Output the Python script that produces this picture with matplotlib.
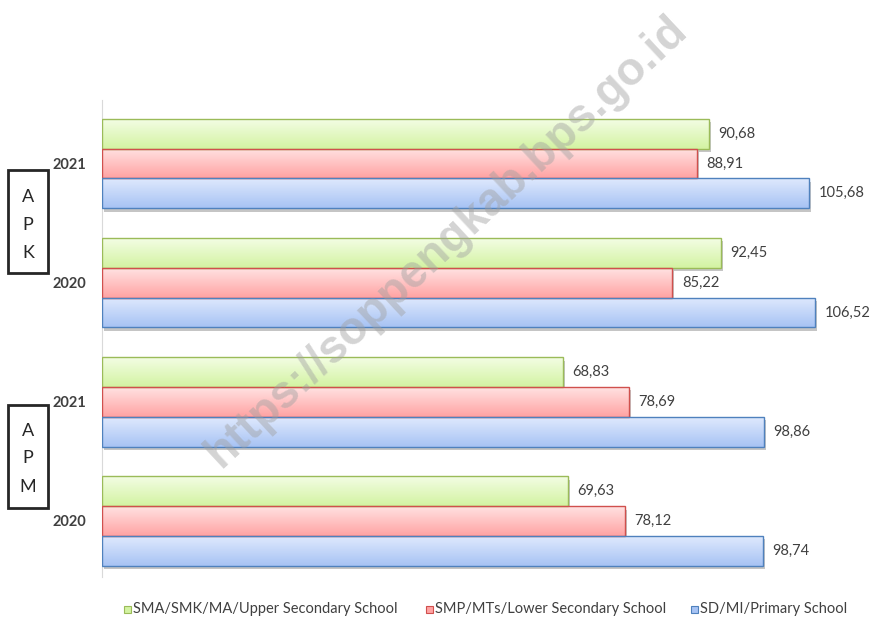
import numpy as np
import matplotlib
matplotlib.use("Agg")
import matplotlib.pyplot as plt
import matplotlib.patheffects as pe
from matplotlib.patches import Rectangle
from matplotlib.colors import LinearSegmentedColormap

plt.rcParams['font.family'] = ['Lato', 'DejaVu Sans']

# groups top to bottom
years = ['2021', '2020', '2021', '2020']
sma = [90.68, 92.45, 68.83, 69.63]
smp = [88.91, 85.22, 78.69, 78.12]
sd = [105.68, 106.52, 98.86, 98.74]
series_names = ['SMA/SMK/MA/Upper Secondary School',
                'SMP/MTs/Lower Secondary School',
                'SD/MI/Primary School']

# (top colour, bottom colour, edge colour)
styles = [('#f3fde4', '#d3f3a2', '#9bbb59'),
          ('#ffe2e2', '#ffa3a3', '#d0504d'),
          ('#dfe9fd', '#a7c3f4', '#4f81bd')]


def fmt(v):
    return ('%.2f' % v).replace('.', ',')


fig = plt.figure(figsize=(8.74, 6.21), dpi=100)
ax = fig.add_axes([102 / 874, 1 - 577 / 621, 753 / 874, 477 / 621])

bar_h = 0.25
y = np.arange(len(years))
for k, vals in enumerate([sma, smp, sd]):
    top, bot, edge = styles[k]
    ypos = y - 0.25 + k * bar_h
    cmap = LinearSegmentedColormap.from_list('g%d' % k, [top, bot])
    grad = np.linspace(0, 1, 64).reshape(-1, 1)
    base = ax.barh(ypos, vals, height=bar_h, color='white', edgecolor='none', zorder=2)
    for p in base:
        p.set_path_effects([pe.SimplePatchShadow(offset=(1.5, -2.5), shadow_rgbFace='#808080', alpha=0.45),
                            pe.Normal()])
        x0, y0 = p.get_x(), p.get_y()
        w, h = p.get_width(), p.get_height()
        im = ax.imshow(grad, cmap=cmap, aspect='auto', origin='lower',
                       extent=(x0, x0 + w, y0, y0 + h), zorder=3, interpolation='bilinear')
        im.set_clip_path(p)
    ax.barh(ypos, vals, height=bar_h, color='none', edgecolor=edge, linewidth=1.0, zorder=4)
    for yy, v in zip(ypos, vals):
        ax.text(v + 1.4, yy, fmt(v), va='center', ha='left', fontsize=10.5, color='#404040')

ax.set_xlim(0, 112.5)
ax.set_ylim(3.47, -0.533)
ax.set_yticks(y)
ax.set_yticklabels(years, fontweight='bold', fontsize=10.5, color='#404040')
ax.tick_params(axis='y', length=0, pad=11)
ax.set_xticks([])
for s in ['top', 'right', 'bottom']:
    ax.spines[s].set_visible(False)
ax.spines['left'].set_color('#d9d9d9')

# side boxes
for (y_top, y_bot, letters, ys) in [(170, 273, 'APK', [197, 225, 253]),
                                    (405, 508, 'APM', [431, 458, 487])]:
    fig.patches.append(Rectangle((8 / 874, 1 - y_bot / 621), 40 / 874, (y_bot - y_top) / 621,
                                 transform=fig.transFigure, fill=False,
                                 edgecolor='#262626', linewidth=2))
    for ch, yy in zip(letters, ys):
        fig.text(28 / 874, 1 - yy / 621, ch, ha='center', va='center', fontsize=13, color='#262626')

# legend
for k, (xp, name) in enumerate(zip([128, 430, 695], series_names)):
    top, bot, edge = styles[k]
    fig.patches.append(Rectangle(((xp - 4) / 874, 1 - 613 / 621), 7 / 874, 7 / 621,
                                 transform=fig.transFigure, facecolor=bot,
                                 edgecolor=edge, linewidth=0.8))
    fig.text((xp + 5) / 874, 1 - 609 / 621, name, ha='left', va='center', fontsize=10.5, color='#404040')

# watermark
fig.text(447 / 874, 1 - 242 / 621, 'https://soppengkab.bps.go.id', rotation=43,
         ha='center', va='center', fontsize=33, fontweight='bold', color='#a0a0a0', alpha=0.45,
         family='Liberation Sans', zorder=10)

fig.savefig('out.png', dpi=100)
